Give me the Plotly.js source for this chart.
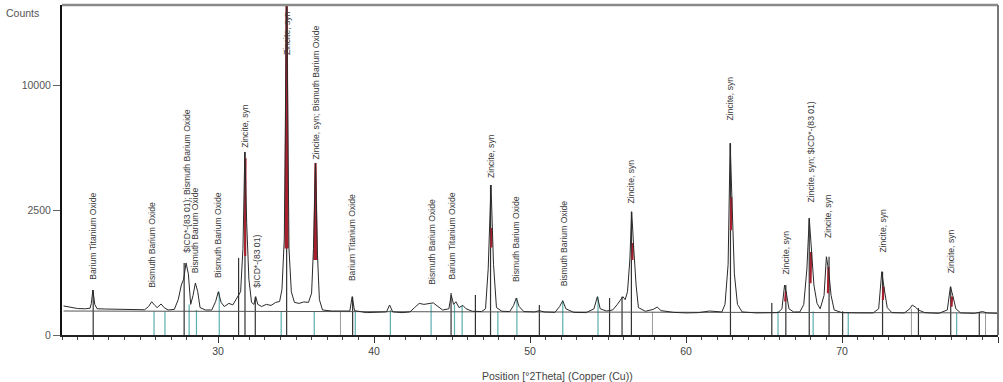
<!DOCTYPE html>
<html>
<head>
<meta charset="utf-8">
<script src="https://cdn.plot.ly/plotly-3.0.1.min.js"></script>
<style>
html,body{margin:0;padding:0;background:#fff;}
#chart{width:1003px;height:382px;}
</style>
</head>
<body>
<div id="chart"></div>
<script>
// ---- measured pattern (2Theta in degrees, intensity in counts) ----
const twoTheta = [20.1,20.3,20.6,21.0,21.5,21.8,21.88,21.98,22.1,22.25,22.8,23.5,24.2,24.8,25.3,25.55,25.75,25.95,26.1,26.35,26.55,26.8,27.2,27.45,27.65,27.8,27.95,28.1,28.25,28.4,28.55,28.7,28.85,29.2,29.6,29.85,30.02,30.2,30.4,30.7,30.95,31.15,31.3,31.45,31.6,31.72,31.84,31.98,32.15,32.3,32.42,32.55,32.8,33.1,33.4,33.7,33.95,34.1,34.25,34.4,34.55,34.7,34.9,35.2,35.5,35.8,36.0,36.12,36.25,36.38,36.5,36.7,37.3,38.0,38.45,38.6,38.75,39.5,40.3,40.8,41.0,41.2,41.8,42.3,42.6,42.9,43.2,43.5,43.8,44.1,44.4,44.8,44.95,45.1,45.25,45.45,45.7,45.9,46.3,46.9,47.15,47.32,47.5,47.66,47.85,48.2,48.7,48.95,49.12,49.3,49.6,50.3,50.6,50.9,51.6,51.9,52.1,52.3,52.8,53.6,54.1,54.32,54.5,54.9,55.3,55.6,55.8,55.95,56.1,56.25,56.4,56.52,56.65,56.8,56.95,57.4,57.9,58.15,58.4,59.2,60.0,60.8,61.5,61.9,62.3,62.5,62.7,62.83,62.96,63.1,63.3,63.6,64.5,65.3,65.9,66.15,66.32,66.45,66.6,66.9,67.3,67.55,67.75,67.9,68.05,68.2,68.4,68.6,68.85,69.0,69.15,69.3,69.5,70.0,71.0,72.0,72.35,72.55,72.7,72.9,73.2,74.0,74.35,74.5,74.7,74.9,75.3,76.2,76.75,76.95,77.1,77.3,77.6,78.5,79.0,79.3,80.0];
const counts   = [135,130,120,112,110,115,160,324,150,110,108,105,103,100,102,130,177,140,120,154,120,100,105,200,400,500,830,600,150,250,433,300,120,100,100,180,300,170,130,160,145,200,250,300,1200,5360,2000,500,170,150,235,150,130,150,140,170,180,330,1500,20000,1200,300,170,160,175,170,280,1200,4730,1000,200,100,92,90,92,235,95,80,80,85,144,85,80,85,120,160,150,160,165,130,100,110,256,150,177,120,140,110,90,88,110,700,3600,800,120,90,88,140,219,130,88,85,95,85,82,130,188,110,82,80,110,235,110,92,100,150,200,235,200,300,900,2430,1200,400,120,90,105,125,95,82,78,80,92,90,85,150,800,5880,2500,600,150,85,78,78,80,110,400,260,110,85,85,150,700,2180,1200,400,160,110,250,980,650,250,100,80,78,78,110,641,350,120,80,78,110,144,125,100,80,75,100,373,250,110,78,75,88,78,75];

// ---- red (fitted profile) segments on the ZnO peaks ----
const redTheta  = [31.74,31.76,null,34.34,34.4,34.46,null,36.18,36.25,36.32,null,47.52,47.54,null,56.56,56.6,null,62.88,62.9,null,66.36,66.4,null,67.98,68.02,null,69.1,69.13,null,72.62,72.66,null,77.02,77.06];
const redCounts = [1000,5000,null,1200,20000,1200,null,900,4730,900,null,1225,1830,null,900,1350,null,1760,3050,null,180,300,null,430,1100,null,280,740,null,196,373,null,128,235];

// ---- fitted background ----
const bgTheta  = [20.1, 80.0];
const bgCounts = [92, 78];

// ---- peak list sticks (dark) ----
const peakStickTheta  = [22.0,27.83,31.32,31.73,32.39,34.4,38.63,44.94,46.5,47.47,50.6,55.1,55.9,56.5,62.85,65.5,66.4,67.9,69.17,70.04,72.6,74.9,76.97,78.8];
const peakStickCounts = [324,830,950,5360,235,20000,235,282,256,3600,144,219,235,2430,5880,164,400,2180,980,90,641,117,373,85];

// ---- reference pattern sticks (teal) ----
const refStickTheta  = [25.9,26.6,28.15,28.62,30.08,34.05,36.17,38.8,41.05,43.66,45.16,45.65,47.94,49.16,52.1,54.36,65.9,68.15,70.4,77.35];
const refStickCounts = [90,90,150,100,300,90,90,90,100,150,150,140,90,219,188,235,90,90,80,80];

// ---- other reference sticks (grey) ----
const greyStickTheta  = [37.85,57.85,74.45,79.2];
const greyStickCounts = [85,85,110,80];

// ---- peak labels ----
const labelTheta  = [22.0,25.75,27.96,28.54,30.0,31.72,32.45,34.42,36.25,38.63,43.7,45.0,47.5,49.1,52.2,56.5,62.85,66.38,67.95,69.1,72.6,77.0];
const labelText   = ["Barium Titanium Oxide","Bismuth Barium Oxide","$ICD*-(83 01); Bismuth Barium Oxide","Bismuth Barium Oxide","Bismuth Barium Oxide","Zincite, syn","$ICD*-(83 01)","Zincite, syn","Zincite, syn; Bismuth Barium Oxide","Barium Titanium Oxide","Bismuth Barium Oxide","Barium Titanium Oxide","Zincite, syn","Bismuth Barium Oxide","Bismuth Barium Oxide","Zincite, syn","Zincite, syn","Zincite, syn","Zincite, syn; $ICD*-(83 01)","Zincite, syn","Zincite, syn","Zincite, syn"];
const labelCounts = [450,324,1024,576,484,5476,324,12350,4790,433,369,450,3844,416,353,2704,7259,538,2704,1444,1024,576];

// y-tick labels (square-root intensity scale)
const yTickCounts = [0, 2500, 10000];
const xTickVals = [30, 40, 50, 60, 70, 80];

// ---------- build ----------
const sq = v => (v === null ? null : Math.sqrt(v));

function sticks(xs, hs) {
  const x = [], y = [];
  for (let i = 0; i < xs.length; i++) {
    x.push(xs[i], xs[i], null);
    y.push(0, Math.sqrt(hs[i]), null);
  }
  return {x, y};
}
const ps = sticks(peakStickTheta, peakStickCounts);
const rs = sticks(refStickTheta, refStickCounts);
const gs = sticks(greyStickTheta, greyStickCounts);

const FONT = "Liberation Sans Narrow, Arial Narrow, Liberation Sans, Arial, sans-serif";

const traces = [
  {x: gs.x, y: gs.y, mode: 'lines', line: {color: '#9a9a9a', width: 1}, hoverinfo: 'skip'},
  {x: rs.x, y: rs.y, mode: 'lines', line: {color: '#5aafb0', width: 1.2}, hoverinfo: 'skip'},
  {x: ps.x, y: ps.y, mode: 'lines', line: {color: '#333333', width: 1.2}, hoverinfo: 'skip'},
  {x: bgTheta, y: bgCounts.map(sq), mode: 'lines', line: {color: '#555555', width: 1}, hoverinfo: 'skip'},
  {x: redTheta, y: redCounts.map(sq), mode: 'lines', line: {color: '#a8202e', width: 2.2}, connectgaps: false, hoverinfo: 'skip'},
  {x: twoTheta, y: counts.map(sq), mode: 'lines', line: {color: '#2a2a2a', width: 1}, hoverinfo: 'skip'}
];

const annotations = labelText.map((t, i) => ({
  x: labelTheta[i], y: Math.sqrt(labelCounts[i]), xref: 'x', yref: 'y',
  text: t, textangle: -90, showarrow: false,
  xanchor: 'center', yanchor: 'bottom',
  font: {family: FONT, size: 8.6, color: '#3a3a3a'}
}));
annotations.push({
  xref: 'paper', yref: 'paper', x: -0.062, y: 1.0, xanchor: 'left', yanchor: 'top',
  text: 'Counts', showarrow: false, font: {family: FONT, size: 10.5, color: '#555'}
});
annotations.push({
  xref: 'paper', yref: 'paper', x: 0.529, y: -0.125, xanchor: 'center', yanchor: 'middle',
  text: 'Position [°2Theta] (Copper (Cu))', showarrow: false,
  font: {family: FONT, size: 10.5, color: '#444'}
});

const layout = {
  width: 1003, height: 382,
  margin: {l: 62, r: 5, t: 5, b: 47},
  paper_bgcolor: '#fff', plot_bgcolor: '#fff',
  showlegend: false,
  font: {family: FONT, size: 10, color: '#444'},
  xaxis: {
    range: [20, 80], showgrid: false, zeroline: false,
    showline: true, linecolor: '#222', linewidth: 1.5,
    tickmode: 'array', tickvals: xTickVals, ticktext: xTickVals.map(String),
    ticks: 'outside', ticklen: 6, tickcolor: '#333', tickwidth: 1,
    minor: {dtick: 1, ticks: 'outside', ticklen: 3, tickcolor: '#444', tickwidth: 1, showgrid: false},
    tickfont: {family: FONT, size: 10.5, color: '#444'}
  },
  yaxis: {
    range: [0, 132], showgrid: false, zeroline: false,
    showline: true, linecolor: '#111', linewidth: 2,
    tickmode: 'array', tickvals: yTickCounts.map(Math.sqrt), ticktext: yTickCounts.map(String),
    ticks: 'outside', ticklen: 7, tickcolor: '#666', tickwidth: 1,
    tickfont: {family: FONT, size: 10.5, color: '#555'}
  },
  shapes: [
    {type: 'line', xref: 'paper', yref: 'paper', x0: 0, x1: 1, y0: 1, y1: 1, line: {color: '#8a8a8a', width: 2.5}},
    {type: 'line', xref: 'paper', yref: 'paper', x0: 1, x1: 1, y0: 0, y1: 1, line: {color: '#777', width: 2}}
  ],
  annotations: annotations
};

Plotly.newPlot('chart', traces, layout, {staticPlot: true, displayModeBar: false});
</script>
</body>
</html>
